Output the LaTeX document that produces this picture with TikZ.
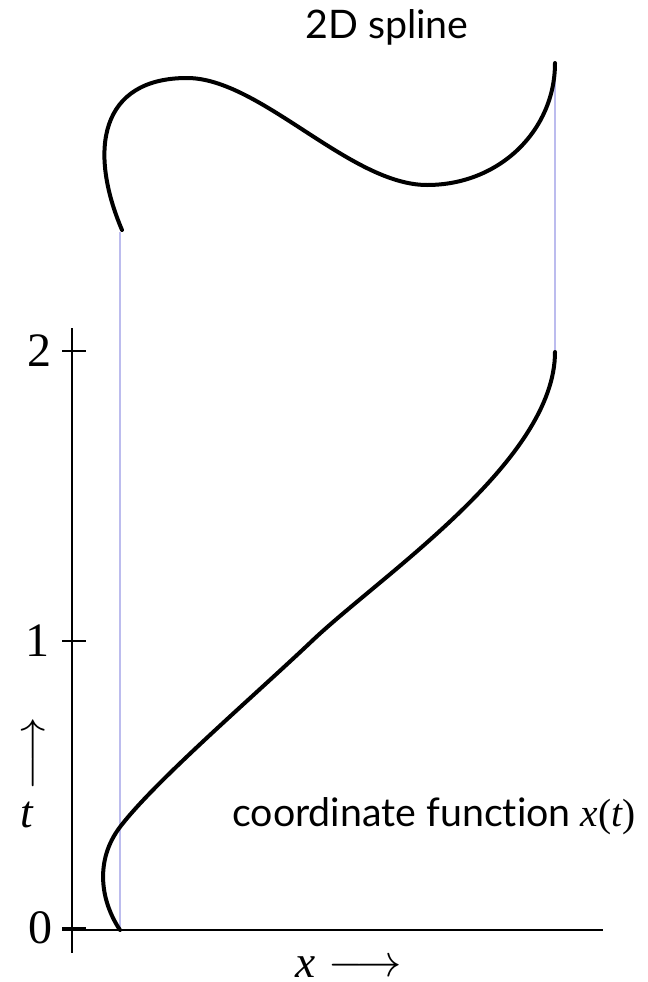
\documentclass[tikz,border=0pt]{standalone}
\usepackage{fontspec}
\setmainfont[Ligatures=NoCommon]{Lato}
\newfontfamily\timesfont{Liberation Serif}
\usetikzlibrary{positioning}
\definecolor{lilac}{RGB}{188,188,238}

\begin{document}
\begin{tikzpicture}[x=0.75pt,y=-0.75pt,
    curve/.style={line width=3pt,line cap=round,line join=round},
    axis/.style={line width=1.5pt},
    guide/.style={draw=lilac,line width=1.2pt},
    sanslabel/.style={font=\fontsize{29.5}{33}\selectfont,inner sep=0pt},
    seriflabel/.style={font=\timesfont\fontsize{36}{40}\selectfont,inner sep=0pt},
    varlabel/.style={font=\timesfont\itshape\fontsize{34}{38}\selectfont,inner sep=0pt},
    arrowlabel/.style={inner sep=0pt,scale=3.4}]
  \useasboundingbox (0,0) rectangle (647,982);
  \draw[guide] (120,232) -- (120,930);
  \draw[guide] (555,63) -- (555,352);
  \draw[axis] (72,328) -- (72,953);
  \draw[axis] (62,930) -- (603,930);
  \foreach \v/\y/\x in {0/928/40,1/641/38,2/351/39}
    {
      \draw[axis] (62,\y) -- (86,\y);
      \node[seriflabel] (tick\v) at (\x,\y) {\v};
    }
  \draw[curve] (122,230) .. controls (88,150) and (100,78) .. (187,78)
    .. controls (260,78) and (350,185) .. (427,185)
    .. controls (500,185) and (555,130) .. (555,63);
  \draw[curve] (120,930) .. controls (100,900) and (95,860) .. (120,827)
    .. controls (155,781) and (253,697) .. (313,640)
    .. controls (383,574) and (555,460) .. (555,352);
  \node[sanslabel,anchor=base west] (title) at (305,38) {2D spline};
  \node[sanslabel,anchor=base west] (caption) at (232,826)
    {coordinate function {\timesfont\itshape x\/\upshape(\itshape t\/\upshape)}};
  \node[varlabel,anchor=base] (xlabel) at (306,977) {x};
  \node[arrowlabel] (xarrow) at (365,968) {$\longrightarrow$};
  \node[varlabel,anchor=base] (tlabel) at (27,827) {t};
  \node[arrowlabel] (tarrow) at (36,754) {\rotatebox{90}{$\longrightarrow$}};
\end{tikzpicture}
\end{document}
